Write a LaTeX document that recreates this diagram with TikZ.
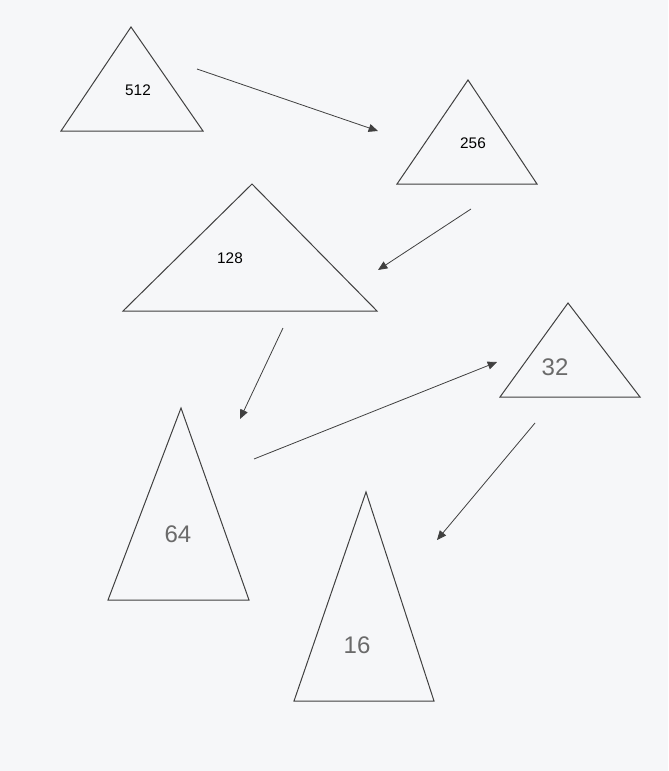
\documentclass[tikz,border=0pt]{standalone}
\usepackage{fontspec}
\setmainfont{Liberation Sans}
\usetikzlibrary{arrows.meta}
\definecolor{paper}{HTML}{F6F7F9}
\definecolor{ink}{HTML}{404040}
\definecolor{pencil}{HTML}{6A6A6A}
\begin{document}
\begin{tikzpicture}[x=0.75pt,y=-0.75pt,
  tri/.style={draw=ink,line width=0.75pt},
  conn/.style={draw=ink,line width=0.6pt,-{Triangle[length=7pt,width=6pt]}},
  printed/.style={font=\fontsize{11.5}{13}\selectfont,text=black},
  hand/.style={font=\fontsize{18}{21}\selectfont,text=pencil}]
\fill[paper] (0,0) rectangle (668,771);
\useasboundingbox (0,0) rectangle (668,771);
% triangles
\draw[tri] (131,27) -- (61,131) -- (203,131) -- cycle;
\draw[tri] (468,80) -- (397,184) -- (537,184) -- cycle;
\draw[tri] (252,184) -- (123,311) -- (377,311) -- cycle;
\draw[tri] (181,408) -- (108,600) -- (249,600) -- cycle;
\draw[tri] (568,303) -- (500,397) -- (640,397) -- cycle;
\draw[tri] (366,492) -- (294,701) -- (434,701) -- cycle;
% labels
\node[printed] (n512) at (138,90) {512};
\node[printed] (n256) at (473,143) {256};
\node[printed] (n128) at (230,258) {128};
\node[hand] (n64) at (178,534) {64};
\node[hand] (n32) at (555,367) {32};
\node[hand] (n16) at (357,645) {16};
% connector end points
\coordinate (a1) at (197,69);  \coordinate (b1) at (378,131);
\coordinate (a2) at (471,209); \coordinate (b2) at (378,270);
\coordinate (a3) at (283,328); \coordinate (b3) at (240,419);
\coordinate (a4) at (254,459); \coordinate (b4) at (497,362);
\coordinate (a5) at (535,423); \coordinate (b5) at (437,540);
\draw[conn] (a1) -- (b1);
\draw[conn] (a2) -- (b2);
\draw[conn] (a3) -- (b3);
\draw[conn] (a4) -- (b4);
\draw[conn] (a5) -- (b5);
\end{tikzpicture}
\end{document}
